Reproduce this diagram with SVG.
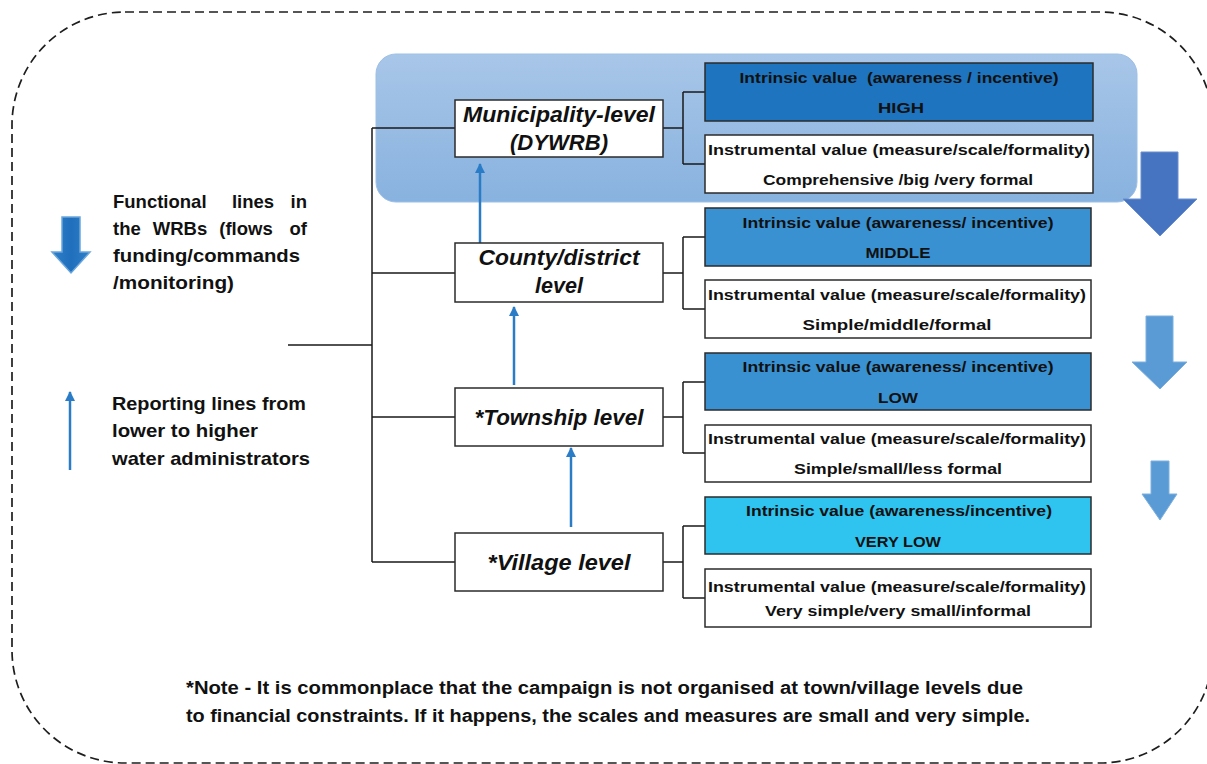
<svg xmlns="http://www.w3.org/2000/svg" width="1207" height="764" viewBox="0 0 1207 764">
  <defs>
    <linearGradient id="bandFill" x1="0" y1="0" x2="0" y2="1">
      <stop offset="0" stop-color="#a8c6e8"/>
      <stop offset="1" stop-color="#88b2df"/>
    </linearGradient>
    <linearGradient id="legendArrowFill" x1="0" y1="0" x2="1" y2="0">
      <stop offset="0" stop-color="#2f7fc8"/>
      <stop offset="0.5" stop-color="#1f6fbd"/>
      <stop offset="1" stop-color="#2f7fc8"/>
    </linearGradient>
    <marker id="reportHead" viewBox="0 0 10 10" refX="9" refY="5" markerWidth="10" markerHeight="10" markerUnits="userSpaceOnUse" orient="auto">
      <path d="M0,0 L10,5 L0,10 Z" fill="#2b7cc7"/>
    </marker>
    <style>
      .frame { fill: none; stroke: #1e1e1e; stroke-width: 1.7; stroke-dasharray: 9 5; }
      .line { fill: none; stroke: #1a1a1a; stroke-width: 1.5; }
      .report { fill: none; stroke: #2b7cc7; stroke-width: 2.5; marker-end: url(#reportHead); }
      .level { fill: #ffffff; stroke: #2b2b2b; stroke-width: 1.5; }
      .info { fill: #ffffff; stroke: #2b2b2b; stroke-width: 1.5; }
      .high { fill: #1e74be; stroke: #2b2b2b; stroke-width: 1.5; }
      .mid { fill: #3a91d2; stroke: #2b2b2b; stroke-width: 1.5; }
      .vlow { fill: #2ec4ef; stroke: #2b2b2b; stroke-width: 1.5; }
      .t { font-family: "Liberation Sans", Arial, sans-serif; font-weight: bold; fill: #111; }
      .box { font-size: 15.5px; text-anchor: middle; }
      .title { font-size: 21.5px; font-style: italic; text-anchor: middle; }
      .legend { font-size: 18.5px; }
      .note { font-size: 17.5px; }
      .flowA { fill: #4674c0; stroke: #6b8fcf; stroke-width: 1; }
      .flowB { fill: #5b9bd5; stroke: #7cb0de; stroke-width: 1; }
    </style>
  </defs>

  <!-- dashed outer frame (right edge runs just past the canvas) -->
  <rect class="frame" x="12" y="12" width="1201" height="751" rx="113" ry="113"/>

  <!-- highlight band behind the municipality row -->
  <rect x="376" y="54" width="761" height="148" rx="20" ry="20" fill="url(#bandFill)" stroke="#9dc0e6" stroke-width="1"/>

  <!-- connectors -->
  <g id="connectors">
    <path class="line" d="M288,345 H372 M372,128 V562 M372,128 H455 M372,273 H455 M372,417 H455 M372,562 H455"/>
    <path class="line" d="M663,128 H683 M683,92 V164 M683,92 H705 M683,164 H705"/>
    <path class="line" d="M663,273 H683 M683,237 V309 M683,237 H705 M683,309 H705"/>
    <path class="line" d="M663,417 H683 M683,382 V453 M683,382 H705 M683,453 H705"/>
    <path class="line" d="M663,562 H683 M683,526 V598 M683,526 H705 M683,598 H705"/>
    <path class="report" d="M480,243 V164"/>
    <path class="report" d="M514,385 V307"/>
    <path class="report" d="M571,527 V448"/>
  </g>

  <!-- level nodes -->
  <g id="node-municipality">
    <rect class="level" x="455" y="100" width="208" height="57"/>
    <text class="t title" x="559" y="122" textLength="192" lengthAdjust="spacingAndGlyphs">Municipality-level</text>
    <text class="t title" x="559" y="150" textLength="98" lengthAdjust="spacingAndGlyphs">(DYWRB)</text>
  </g>
  <g id="node-county">
    <rect class="level" x="455" y="243" width="208" height="59"/>
    <text class="t title" x="559" y="265" textLength="161" lengthAdjust="spacingAndGlyphs">County/district</text>
    <text class="t title" x="559" y="293" textLength="48" lengthAdjust="spacingAndGlyphs">level</text>
  </g>
  <g id="node-township">
    <rect class="level" x="455" y="388" width="208" height="58"/>
    <text class="t title" x="559" y="425" textLength="169" lengthAdjust="spacingAndGlyphs">*Township level</text>
  </g>
  <g id="node-village">
    <rect class="level" x="455" y="533" width="208" height="58"/>
    <text class="t title" x="559" y="570" textLength="143" lengthAdjust="spacingAndGlyphs">*Village level</text>
  </g>

  <!-- value nodes -->
  <g id="node-intrinsic-1">
    <rect class="high" x="705" y="63" width="388" height="58"/>
    <text class="t box" x="899" y="83" textLength="319" lengthAdjust="spacingAndGlyphs" style="white-space:pre">Intrinsic value  (awareness / incentive)</text>
    <text class="t box" x="901" y="113" textLength="46" lengthAdjust="spacingAndGlyphs">HIGH</text>
  </g>
  <g id="node-instrumental-1">
    <rect class="info" x="705" y="135" width="388" height="58"/>
    <text class="t box" x="899" y="155" textLength="382" lengthAdjust="spacingAndGlyphs">Instrumental value (measure/scale/formality)</text>
    <text class="t box" x="898" y="185" textLength="270" lengthAdjust="spacingAndGlyphs">Comprehensive /big /very formal</text>
  </g>

  <g id="node-intrinsic-2">
    <rect class="mid" x="705" y="208" width="386" height="58"/>
    <text class="t box" x="898" y="228" textLength="311" lengthAdjust="spacingAndGlyphs">Intrinsic value (awareness/ incentive)</text>
    <text class="t box" x="898" y="258" textLength="65" lengthAdjust="spacingAndGlyphs">MIDDLE</text>
  </g>
  <g id="node-instrumental-2">
    <rect class="info" x="705" y="280" width="386" height="58"/>
    <text class="t box" x="897" y="300" textLength="378" lengthAdjust="spacingAndGlyphs">Instrumental value (measure/scale/formality)</text>
    <text class="t box" x="897" y="330" textLength="189" lengthAdjust="spacingAndGlyphs">Simple/middle/formal</text>
  </g>

  <g id="node-intrinsic-3">
    <rect class="mid" x="705" y="353" width="386" height="57"/>
    <text class="t box" x="898" y="372" textLength="311" lengthAdjust="spacingAndGlyphs">Intrinsic value (awareness/ incentive)</text>
    <text class="t box" x="898" y="403" textLength="40" lengthAdjust="spacingAndGlyphs">LOW</text>
  </g>
  <g id="node-instrumental-3">
    <rect class="info" x="705" y="425" width="386" height="57"/>
    <text class="t box" x="897" y="444" textLength="378" lengthAdjust="spacingAndGlyphs">Instrumental value (measure/scale/formality)</text>
    <text class="t box" x="898" y="474" textLength="208" lengthAdjust="spacingAndGlyphs">Simple/small/less formal</text>
  </g>

  <g id="node-intrinsic-4">
    <rect class="vlow" x="705" y="497" width="386" height="57"/>
    <text class="t box" x="899" y="516" textLength="306" lengthAdjust="spacingAndGlyphs">Intrinsic value (awareness/incentive)</text>
    <text class="t box" x="898" y="547" textLength="86" lengthAdjust="spacingAndGlyphs">VERY LOW</text>
  </g>
  <g id="node-instrumental-4">
    <rect class="info" x="705" y="569" width="386" height="58"/>
    <text class="t box" x="897" y="592" textLength="378" lengthAdjust="spacingAndGlyphs">Instrumental value (measure/scale/formality)</text>
    <text class="t box" x="898" y="616" textLength="266" lengthAdjust="spacingAndGlyphs">Very simple/very small/informal</text>
  </g>

  <!-- flow arrows on the right, shrinking towards lower levels -->
  <g id="flow-arrows">
    <path class="flowA" d="M1141,152 H1178 V199 H1197 L1160,236 L1123,199 H1141 Z"/>
    <path class="flowB" d="M1146,316 H1173 V362 H1187 L1160,389 L1132,362 H1146 Z"/>
    <path class="flowB" d="M1151,461 H1169 V494 H1177 L1160,520 L1142,494 H1151 Z"/>
  </g>

  <!-- legend -->
  <g id="legend">
    <path d="M62,217 H80 V252 H90 L71,273 L52,252 H62 Z" fill="url(#legendArrowFill)" stroke="#6aa6dc" stroke-width="1.5"/>
    <text class="t legend" x="113" y="208">Functional</text>
    <text class="t legend" x="253" y="208" text-anchor="middle">lines</text>
    <text class="t legend" x="307" y="208" text-anchor="end">in</text>
    <text class="t legend" x="113" y="235">the</text>
    <text class="t legend" x="180" y="235" text-anchor="middle">WRBs</text>
    <text class="t legend" x="246" y="235" text-anchor="middle">(flows</text>
    <text class="t legend" x="307" y="235" text-anchor="end">of</text>
    <text class="t legend" x="113" y="262" textLength="187" lengthAdjust="spacingAndGlyphs">funding/commands</text>
    <text class="t legend" x="113" y="289" textLength="121" lengthAdjust="spacingAndGlyphs">/monitoring)</text>

    <path class="report" d="M70,470 V392"/>
    <text class="t legend" x="112" y="410" textLength="194" lengthAdjust="spacingAndGlyphs">Reporting lines from</text>
    <text class="t legend" x="112" y="437" textLength="146" lengthAdjust="spacingAndGlyphs">lower to higher</text>
    <text class="t legend" x="112" y="465" textLength="198" lengthAdjust="spacingAndGlyphs">water administrators</text>
  </g>

  <!-- footnote -->
  <g id="footnote">
    <text class="t note" x="186" y="694" textLength="837" lengthAdjust="spacingAndGlyphs">*Note - It is commonplace that the campaign is not organised at town/village levels due</text>
    <text class="t note" x="186" y="722" textLength="844" lengthAdjust="spacingAndGlyphs">to financial constraints. If it happens, the scales and measures are small and very simple.</text>
  </g>
</svg>
